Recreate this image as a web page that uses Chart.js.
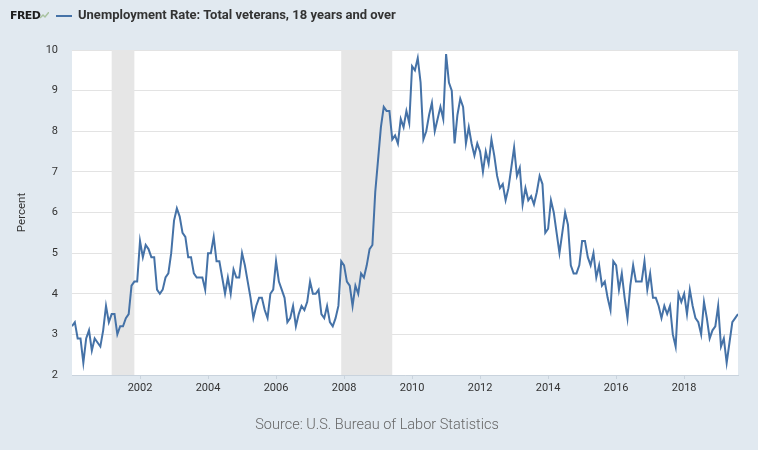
<!DOCTYPE html>
<html>
<head>
<meta charset="utf-8">
<script src="https://cdn.jsdelivr.net/npm/chart.js@4.4.0/dist/chart.umd.min.js"></script>
<style>
  html, body { margin: 0; padding: 0; background: #e1e9f0; }
  #wrap { position: relative; width: 758px; height: 450px; font-family: Roboto, "Noto Sans", sans-serif; }
  #chart { position: absolute; left: 0; top: 0; }
  #fred { position: absolute; left: 10px; top: 9px; font: 900 11px "DejaVu Sans", Arial, sans-serif; color: #1e1e1e; letter-spacing: -0.6px; }
  #fredIcon { position: absolute; left: 40px; top: 12px; }
  #legLine { position: absolute; left: 56px; top: 15px; width: 16px; height: 2px; background: #4572a7; }
  #legText { position: absolute; left: 78px; top: 7px; font-size: 13px; font-weight: bold; color: #333; }
  #source { position: absolute; left: 0; width: 754px; top: 416px; text-align: center; font-size: 14.5px; font-weight: 300; color: #666666; }
</style>
</head>
<body>
<div id="wrap">
  <canvas id="chart" width="758" height="450"></canvas>
  <div id="fred">FRED</div>
  <svg id="fredIcon" width="9" height="7"><polyline points="0,6 3,3 5,5 9,0" fill="none" stroke="#a9c3a0" stroke-width="1.5"/></svg>
  <div id="legLine"></div>
  <div id="legText">Unemployment Rate: Total veterans, 18 years and over</div>
  <div id="source">Source: U.S. Bureau of Labor Statistics</div>
</div>
<script>
// ---------------------------------------------------------------------------
// DONNÉES (mensuelles, janvier 2000 -> août 2019)
// ---------------------------------------------------------------------------

const startYear = 2000;

const rate2000s = [
    3.2, 3.3, 2.9, 2.9, 2.3, 2.9, 3.1, 2.6, 2.9, 2.8, 2.7, 3.1,   // 2000
    3.7, 3.3, 3.5, 3.5, 3.0, 3.2, 3.2, 3.4, 3.5, 4.2, 4.3, 4.3,   // 2001
    5.3, 4.9, 5.2, 5.1, 4.9, 4.9, 4.1, 4.0, 4.1, 4.4, 4.5, 5.0,   // 2002
    5.8, 6.1, 5.9, 5.5, 5.4, 4.9, 4.9, 4.5, 4.4, 4.4, 4.4, 4.1,   // 2003
    5.0, 5.0, 5.4, 4.8, 4.8, 4.4, 4.0, 4.4, 4.0, 4.6, 4.4, 4.4,   // 2004
    5.0, 4.7, 4.3, 3.9, 3.4, 3.7, 3.9, 3.9, 3.6, 3.4, 4.0, 4.1,   // 2005
    4.8, 4.3, 4.1, 3.9, 3.3, 3.4, 3.7, 3.2, 3.5, 3.7, 3.6, 3.8,   // 2006
    4.3, 4.0, 4.0, 4.1, 3.5, 3.4, 3.7, 3.3, 3.2, 3.4, 3.7, 4.8,   // 2007
    4.7, 4.3, 4.2, 3.7, 4.2, 4.0, 4.5, 4.4, 4.7, 5.1, 5.2, 6.5,   // 2008
    7.3, 8.1, 8.6, 8.5, 8.5, 7.8, 7.9, 7.7, 8.3, 8.1, 8.5, 8.2    // 2009
];

const rate2010s = [
    9.6, 9.5, 9.8, 9.2, 7.8, 8.0, 8.4, 8.7, 8.0, 8.3, 8.6, 8.3,   // 2010
    9.9, 9.2, 9.0, 7.7, 8.4, 8.8, 8.6, 7.7, 8.1, 7.7, 7.4, 7.7,   // 2011
    7.5, 7.0, 7.5, 7.2, 7.8, 7.4, 6.9, 6.6, 6.7, 6.3, 6.6, 7.1,   // 2012
    7.6, 6.9, 7.1, 6.2, 6.6, 6.3, 6.4, 6.2, 6.5, 6.9, 6.7, 5.5,   // 2013
    5.6, 6.3, 6.0, 5.5, 5.0, 5.5, 6.0, 5.7, 4.7, 4.5, 4.5, 4.7,   // 2014
    5.3, 5.3, 4.9, 4.7, 5.0, 4.4, 4.7, 4.2, 4.3, 3.9, 3.6, 4.8,   // 2015
    4.7, 4.1, 4.5, 3.9, 3.4, 4.2, 4.7, 4.3, 4.3, 4.3, 4.8, 4.1,   // 2016
    4.5, 3.9, 3.9, 3.7, 3.4, 3.7, 3.5, 3.7, 3.0, 2.7, 4.0, 3.8,   // 2017
    4.0, 3.5, 4.1, 3.7, 3.4, 3.3, 3.0, 3.8, 3.4, 2.9, 3.1, 3.2,   // 2018
    3.7, 2.7, 2.9, 2.3, 2.8, 3.3, 3.4, 3.5                        // 2019
];

const tickYears = [2002, 2004, 2006, 2008, 2010, 2012, 2014, 2016, 2018];

// récessions (année, mois de début) -> (année, mois de fin)
const recessionStarts = [[2001, 3], [2007, 12]];
const recessionEnds   = [[2001, 11], [2009, 6]];


// ---------------------------------------------------------------------------
// CONSTRUCTION DES POINTS
// ---------------------------------------------------------------------------

const rates = rate2000s.concat(rate2010s);
const points = rates.map((v, i) => ({ x: startYear + i / 12, y: v }));

function toYear(ym) {
    return ym[0] + (ym[1] - 1) / 12;
}

// fond blanc + bandes grises des récessions
const backgroundPlugin = {
    id: 'plotBackground',
    beforeDraw(chart) {
        const { ctx, chartArea } = chart;
        ctx.save();
        ctx.fillStyle = '#ffffff';
        ctx.fillRect(chartArea.left, chartArea.top, chartArea.right - chartArea.left, chartArea.bottom - chartArea.top);
        ctx.restore();
    },
    beforeDatasetsDraw(chart) {
        const { ctx, chartArea, scales } = chart;
        ctx.save();
        ctx.fillStyle = '#e6e6e6';
        for (let i = 0; i < recessionStarts.length; i++) {
            const x1 = scales.x.getPixelForValue(toYear(recessionStarts[i]));
            const x2 = scales.x.getPixelForValue(toYear(recessionEnds[i]));
            ctx.fillRect(x1, chartArea.top, x2 - x1, chartArea.bottom - chartArea.top);
        }
        ctx.restore();
    }
};


// ---------------------------------------------------------------------------
// GRAPHIQUE
// ---------------------------------------------------------------------------

const ctx = document.getElementById('chart').getContext('2d');

new Chart(ctx, {
    type: 'line',
    data: {
        datasets: [{
            label: 'Unemployment Rate: Total veterans, 18 years and over',
            data: points,
            borderColor: '#4572a7',
            borderWidth: 2,
            pointRadius: 0,
            fill: false,
            tension: 0
        }]
    },
    options: {
        responsive: false,
        animation: false,
        devicePixelRatio: 1,
        layout: { padding: { left: 0, right: 20, top: 50, bottom: 45 } },
        plugins: {
            legend: { display: false },
            tooltip: { enabled: false }
        },
        scales: {
            x: {
                type: 'linear',
                min: startYear,
                max: startYear + (rates.length - 1) / 12,
                afterBuildTicks: s => { s.ticks = tickYears.map(v => ({ value: v })); },
                afterFit: s => { s.height = 30; },
                ticks: {
                    autoSkip: false,
                    maxRotation: 0,
                    padding: 3,
                    color: '#333333',
                    font: { family: 'Roboto', size: 11 },
                    callback: v => String(v)
                },
                grid: { drawOnChartArea: false, tickLength: 4, color: '#c9d3dd' },
                border: { color: '#c9d3dd' }
            },
            y: {
                min: 2,
                max: 10,
                afterFit: s => { s.width = 72; },
                ticks: {
                    stepSize: 1,
                    padding: 14,
                    color: '#333333',
                    font: { family: 'Roboto', size: 11 }
                },
                grid: { color: '#e3e3e3', drawTicks: false },
                border: { display: false },
                title: {
                    display: true,
                    text: 'Percent',
                    color: '#333333',
                    font: { family: 'Roboto', size: 11.5 },
                    padding: { top: 15, bottom: 0 }
                }
            }
        }
    },
    plugins: [backgroundPlugin]
});
</script>
</body>
</html>
